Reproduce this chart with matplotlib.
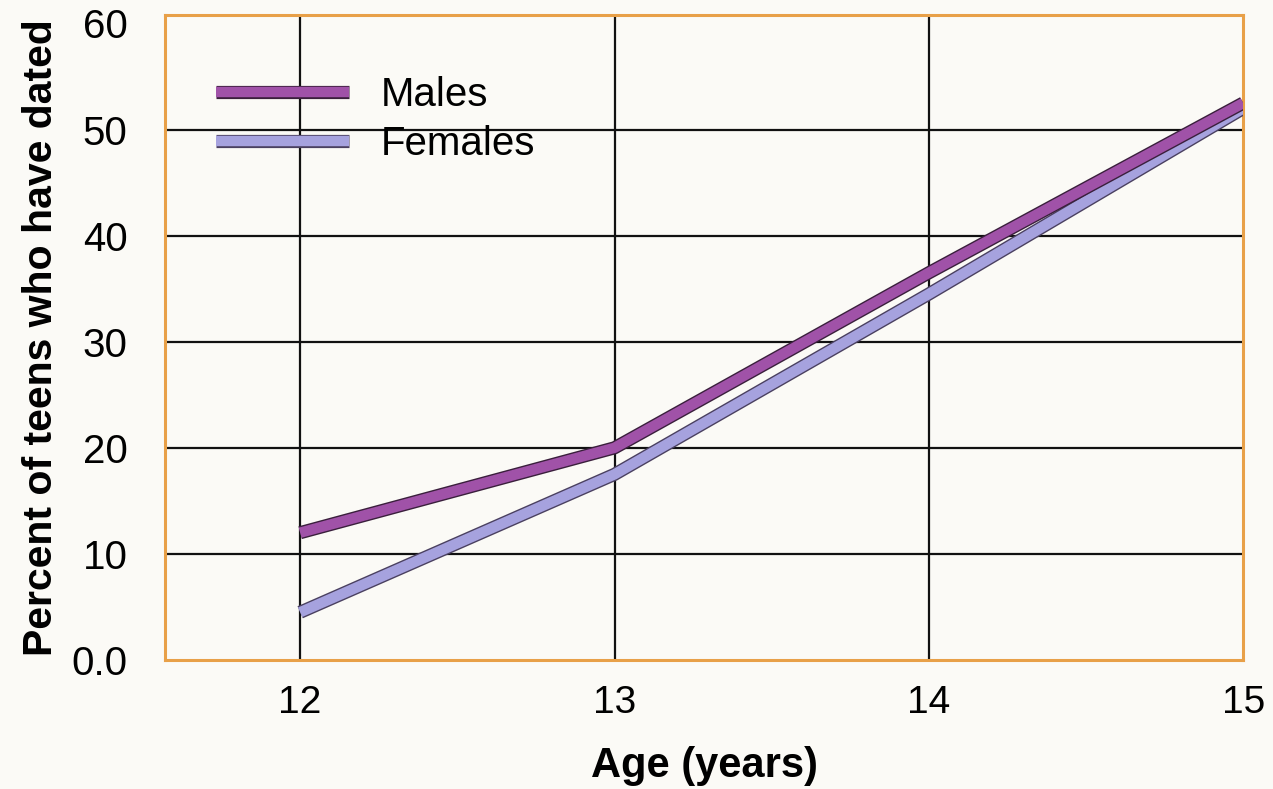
import matplotlib
matplotlib.use("Agg")
import matplotlib.pyplot as plt
import matplotlib.patheffects as pe

# values
ages = [12, 13, 14, 15]
males = [12, 20, 36.5, 52.5]
females = [4.5, 17.5, 34.5, 52]
yticks = [0, 10, 20, 30, 40, 50, 60]
ytick_labels = ["0.0", "10", "20", "30", "40", "50", "60"]

plt.rcParams['font.family'] = ['Liberation Sans', 'DejaVu Sans']

fig = plt.figure(figsize=(12.73, 7.89), dpi=100)
fig.patch.set_facecolor('#fbfaf6')
ax = fig.add_axes([0.1296, 0.1635, 0.847, 0.8175])
ax.set_facecolor('#fbfaf6')

# grid
for x in ages[:-1]:
    ax.axvline(x, color='#111111', lw=1.6, zorder=1)
for y in yticks[1:-1]:
    ax.axhline(y, color='#111111', lw=1.6, zorder=1)

# thick lines with a dark outline, like the printed chart
ax.plot(ages, females, color='#a6a2de', lw=7.5, solid_capstyle='butt', zorder=3,
        path_effects=[pe.Stroke(linewidth=9.5, foreground='#4a4060'), pe.Normal()],
        label='Females')
ax.plot(ages, males, color='#a052a8', lw=7.5, solid_capstyle='butt', zorder=4,
        path_effects=[pe.Stroke(linewidth=9.5, foreground='#3a1f3c'), pe.Normal()],
        label='Males')

ax.set_xlim(11.57, 15)
ax.set_ylim(0, 60.8)
ax.set_xticks(ages)
ax.set_xticklabels([str(a) for a in ages], fontsize=28)
ax.set_yticks(yticks)
ax.set_yticklabels(ytick_labels, fontsize=29)
ax.tick_params(axis='x', length=0, pad=18)
ax.tick_params(axis='y', length=0, pad=27)

for s in ax.spines.values():
    s.set_color('#e8a048')
    s.set_linewidth(2.2)

ax.set_xlabel('Age (years)', fontsize=30, fontweight='bold', labelpad=18)
ax.set_ylabel('Percent of teens who have dated', fontsize=29.5, fontweight='bold', labelpad=8)

h, l = ax.get_legend_handles_labels()
ax.legend(h[::-1], l[::-1], loc='upper left', bbox_to_anchor=(0.032, 0.93),
          borderaxespad=0, frameon=False, fontsize=29, handlelength=3.3,
          handletextpad=0.8, labelspacing=0.27)

fig.savefig('out.png', dpi=100, facecolor=fig.get_facecolor())
